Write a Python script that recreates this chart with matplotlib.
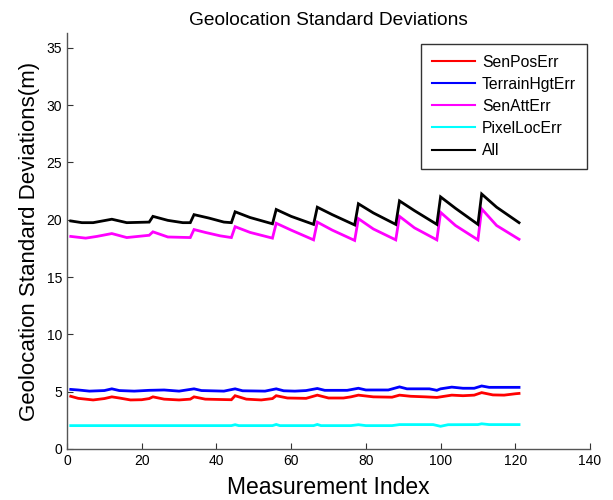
import matplotlib
matplotlib.use("Agg")
import matplotlib.pyplot as plt

plt.rcParams['font.family'] = ['Liberation Sans', 'DejaVu Sans']

title = "Geolocation Standard Deviations"
xlabel = "Measurement Index"
ylabel = "Geolocation Standard Deviations(m)"
labels = ["SenPosErr", "TerrainHgtErr", "SenAttErr", "PixelLocErr", "All"]
colors = ["#ff0000", "#0000ff", "#ff00ff", "#00ffff", "#000000"]

x_pos = [1, 3, 7, 10, 12, 14, 17, 20, 22, 23, 26, 30, 33, 34, 37, 41, 44, 45, 48, 52, 55, 56,
         59, 64, 67, 70, 74, 76, 78, 82, 87, 89, 92, 96, 99, 100, 103, 106, 109, 111, 114, 117, 120, 121]
y_pos = [4.60, 4.42, 4.28, 4.40, 4.55, 4.45, 4.28, 4.30, 4.40, 4.55, 4.35, 4.28, 4.35, 4.55, 4.35,
         4.32, 4.30, 4.65, 4.35, 4.28, 4.40, 4.65, 4.45, 4.42, 4.70, 4.45, 4.45, 4.55, 4.70, 4.55,
         4.52, 4.70, 4.60, 4.55, 4.50, 4.55, 4.70, 4.65, 4.70, 4.92, 4.72, 4.70, 4.82, 4.85]

x_hgt = [1, 3, 6, 10, 12, 14, 18, 22, 26, 30, 34, 36, 42, 45, 47, 53, 56, 58, 61, 64, 67, 69, 75,
         78, 80, 86, 89, 91, 97, 99, 100, 103, 106, 109, 111, 113, 121]
y_hgt = [5.20, 5.15, 5.05, 5.10, 5.25, 5.10, 5.05, 5.12, 5.15, 5.05, 5.25, 5.10, 5.05, 5.25, 5.08,
         5.05, 5.25, 5.08, 5.05, 5.10, 5.28, 5.12, 5.12, 5.30, 5.15, 5.15, 5.42, 5.25, 5.25, 5.12,
         5.25, 5.40, 5.30, 5.30, 5.50, 5.38, 5.38]

x_att = [1, 5, 8, 12, 16, 19, 22, 23, 27, 33, 34, 37, 41, 44, 45, 49, 55, 56, 60, 66, 67, 71, 77,
         78, 82, 88, 89, 93, 99, 100, 104, 110, 111, 115, 121]
y_att = [18.55, 18.40, 18.55, 18.80, 18.45, 18.55, 18.65, 18.95, 18.50, 18.45, 19.15, 18.90, 18.60,
         18.45, 19.40, 18.90, 18.40, 19.70, 19.10, 18.25, 19.80, 19.10, 18.20, 20.10, 19.20, 18.25,
         20.30, 19.30, 18.25, 20.65, 19.50, 18.25, 20.95, 19.50, 18.30]

x_pix = [1, 44, 45, 46, 55, 56, 57, 66, 67, 68, 76, 78, 80, 87, 89, 98, 100, 102, 110, 111, 113, 121]
y_pix = [2.04, 2.04, 2.12, 2.04, 2.04, 2.14, 2.04, 2.04, 2.14, 2.04, 2.04, 2.12, 2.04, 2.04, 2.13,
         2.13, 1.98, 2.12, 2.13, 2.20, 2.13, 2.13]

x_all = [1, 4, 7, 12, 16, 22, 23, 27, 31, 33, 34, 38, 42, 44, 45, 49, 55, 56, 60, 66, 67, 71, 77,
         78, 82, 88, 89, 93, 99, 100, 104, 110, 111, 115, 121]
y_all = [19.90, 19.75, 19.75, 20.05, 19.75, 19.80, 20.30, 19.95, 19.75, 19.75, 20.45, 20.15, 19.80,
         19.75, 20.70, 20.20, 19.65, 20.90, 20.30, 19.60, 21.10, 20.45, 19.55, 21.40, 20.60, 19.60,
         21.65, 20.80, 19.60, 22.00, 21.00, 19.60, 22.25, 21.10, 19.75]

xticks = [0, 20, 40, 60, 80, 100, 120, 140]
yticks = [0, 5, 10, 15, 20, 25, 30, 35]

series = [(x_pos, y_pos), (x_hgt, y_hgt), (x_att, y_att), (x_pix, y_pix), (x_all, y_all)]

fig = plt.figure(figsize=(6.13, 5.0), dpi=100)
ax = fig.add_axes([0.1093, 0.102, 0.8532, 0.832])

for (xs, ys), lab, c in zip(series, labels, colors):
    ax.plot(xs, ys, color=c, lw=2.0, label=lab, solid_joinstyle='miter')

ax.set_xlim(0, 140)
ax.set_ylim(0, 36.3)
ax.set_xticks(xticks)
ax.set_yticks(yticks)
ax.tick_params(direction='in', length=4, labelsize=10, width=0.8, colors='#333333',
               labelcolor='black')
for s in ['top', 'right']:
    ax.spines[s].set_visible(False)
for s in ['left', 'bottom']:
    ax.spines[s].set_color('#555555')
    ax.spines[s].set_linewidth(1.0)

ax.set_title(title, fontsize=13.8, pad=6)
ax.set_xlabel(xlabel, fontsize=16.5, labelpad=6)
ax.set_ylabel(ylabel, fontsize=16, labelpad=5)

leg = ax.legend(loc='upper right', bbox_to_anchor=(0.994, 0.974), borderaxespad=0,
                fontsize=11.3, frameon=True, fancybox=False, handlelength=2.75, borderpad=0.7,
                labelspacing=0.45, handletextpad=0.44)
leg.get_frame().set_edgecolor('black')
leg.get_frame().set_linewidth(1.0)
for l in leg.get_lines():
    l.set_linewidth(1.5)

fig.savefig("out.png", dpi=100)
